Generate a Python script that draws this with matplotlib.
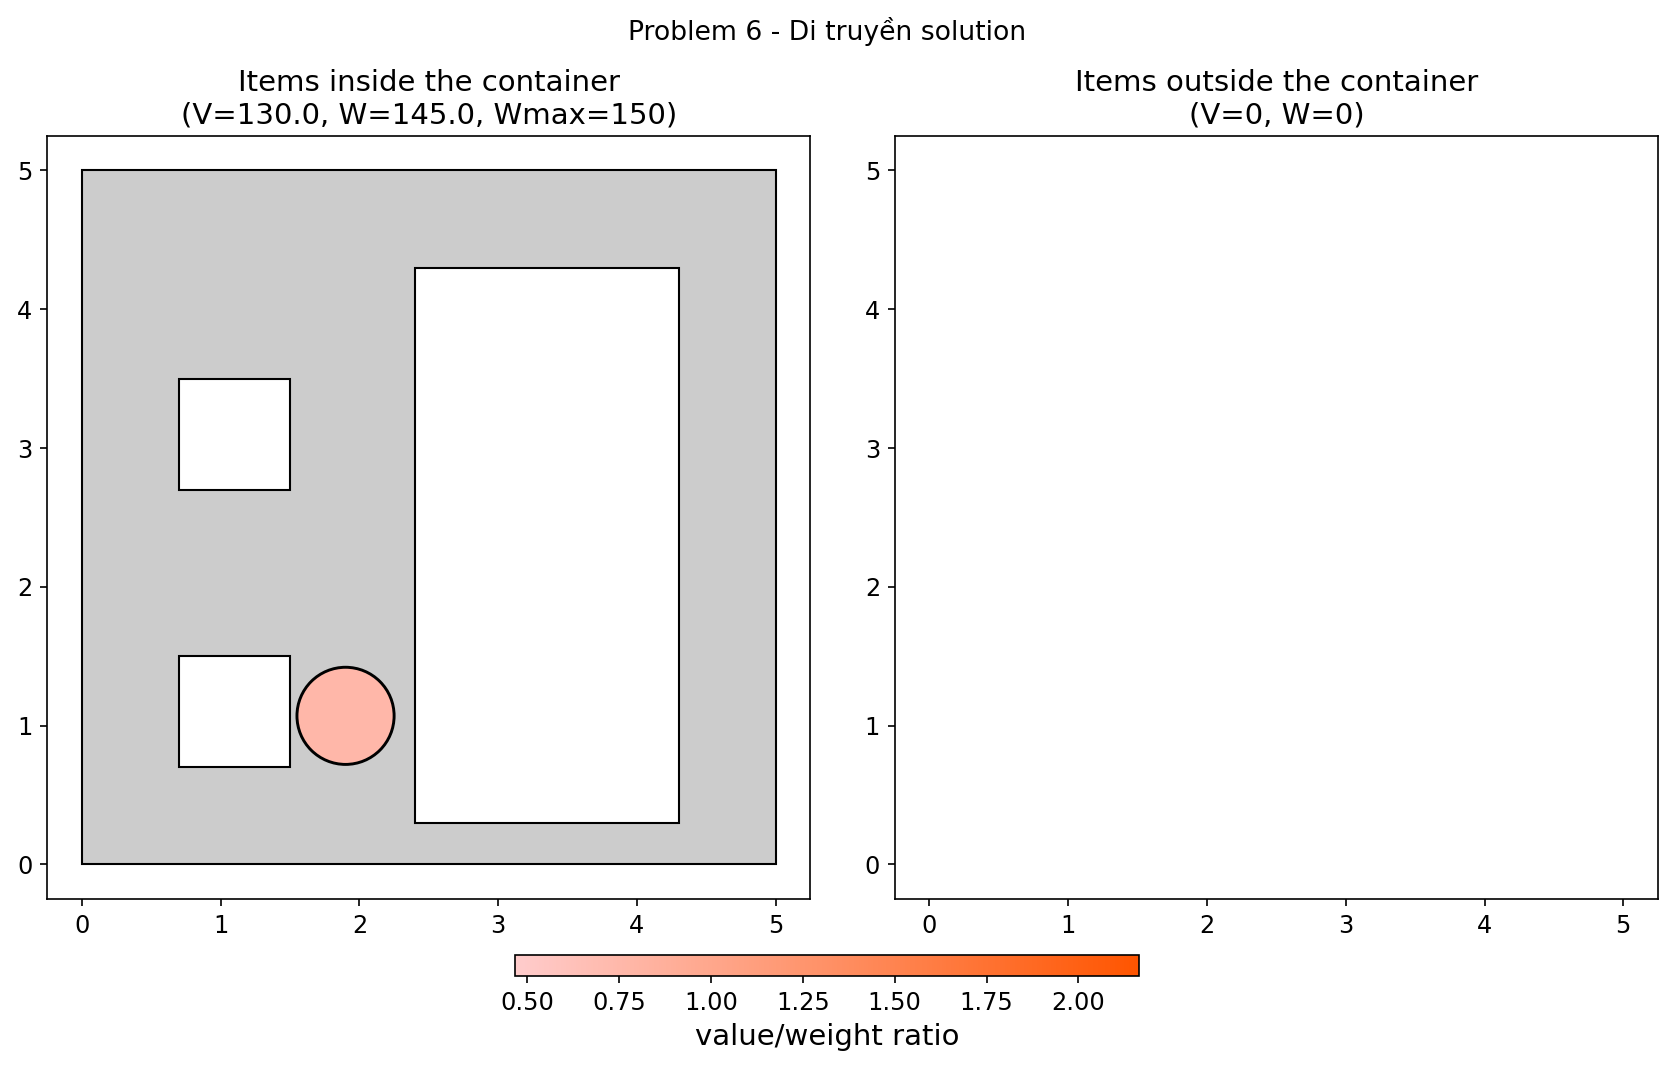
import matplotlib
matplotlib.use("Agg")
import matplotlib.pyplot as plt
from matplotlib.patches import Rectangle, Circle
from matplotlib.colors import LinearSegmentedColormap, Normalize
from matplotlib.cm import ScalarMappable

# container and solution summary
container_w, container_h = 5, 5
total_value, total_weight, w_max = 130.0, 145.0, 150
out_value, out_weight = 0, 0

# rectangles inside the container: (x, y, width, height)
rect_items = [(0.7, 2.7, 0.8, 0.8), (0.7, 0.7, 0.8, 0.8), (2.4, 0.3, 1.9, 4.0)]
# circles inside the container: (cx, cy, r, value/weight ratio)
circle_items = [(1.9, 1.07, 0.35, 0.76)]

ratio_min, ratio_max = 0.467, 2.165
ticks = [0.50, 0.75, 1.00, 1.25, 1.50, 1.75, 2.00]

plt.rcParams["xtick.labelsize"] = 11.5
plt.rcParams["ytick.labelsize"] = 11.5

cmap = LinearSegmentedColormap.from_list("vw", ["#ffcccc", "#ff5500"])
norm = Normalize(vmin=ratio_min, vmax=ratio_max)

fig = plt.figure(figsize=(1675 / 150, 1069 / 150), dpi=150)
ax1 = fig.add_axes([0.028, 0.159, 0.456, 0.714])
ax2 = fig.add_axes([0.534, 0.159, 0.456, 0.714])
cax = fig.add_axes([0.3075, 0.087, 0.3725, 0.0196])

ax1.add_patch(Rectangle((0, 0), container_w, container_h, facecolor="#cccccc",
                        edgecolor="black", linewidth=1))
for x, y, w, h in rect_items:
    ax1.add_patch(Rectangle((x, y), w, h, facecolor="white", edgecolor="black", linewidth=1))
for cx, cy, r, ratio in circle_items:
    ax1.add_patch(Circle((cx, cy), r, facecolor=cmap(norm(ratio)), edgecolor="black", linewidth=1.4))

for ax in (ax1, ax2):
    ax.set_xlim(-0.25, 5.25)
    ax.set_ylim(-0.25, 5.25)
    ax.set_aspect("equal")
    ax.set_xticks(range(6))
    ax.set_yticks(range(6))

ax1.set_title(f"Items inside the container\n(V={total_value}, W={total_weight}, Wmax={w_max})", fontsize=14)
ax2.set_title(f"Items outside the container\n(V={out_value}, W={out_weight})", fontsize=14)
fig.suptitle("Problem 6 - Di truyền solution", fontsize=12.8, x=0.4935, y=0.984)

sm = ScalarMappable(norm=norm, cmap=cmap)
cb = fig.colorbar(sm, cax=cax, orientation="horizontal", ticks=ticks)
cb.set_label("value/weight ratio", fontsize=14)

fig.savefig("out.png", dpi=150)
